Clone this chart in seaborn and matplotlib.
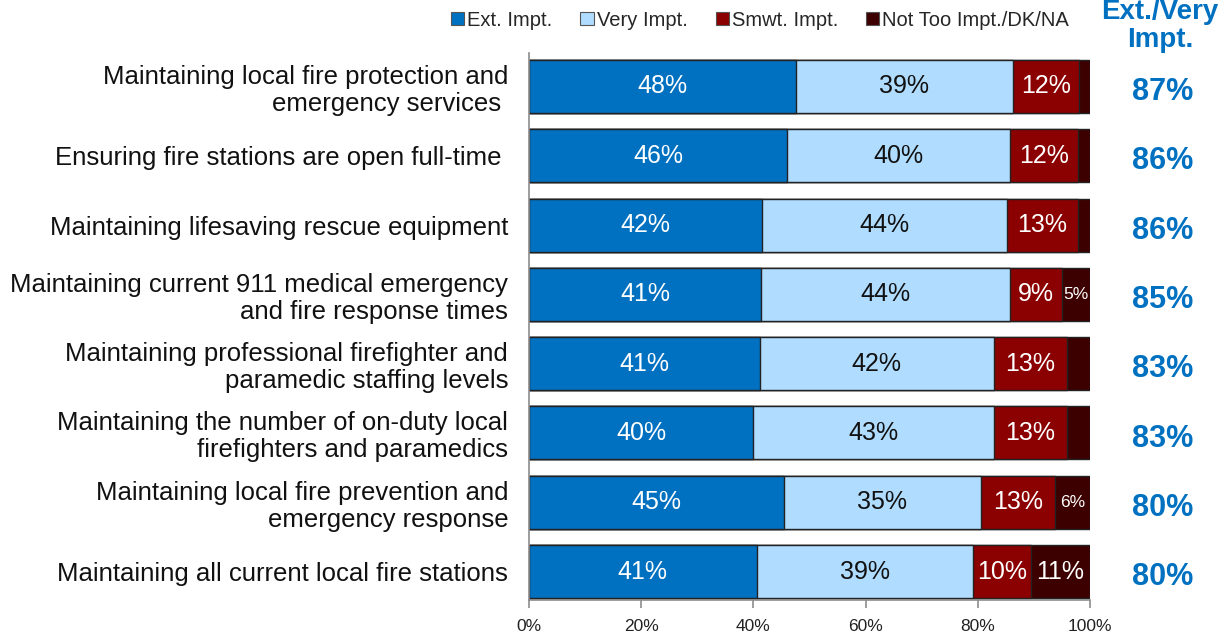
import matplotlib
matplotlib.use("Agg")
import matplotlib.pyplot as plt
from matplotlib.patches import Patch
import pandas as pd
import seaborn as sns

# Survey items (top to bottom)
items = [
    "Maintaining local fire protection and\nemergency services ",
    "Ensuring fire stations are open full-time ",
    "Maintaining lifesaving rescue equipment",
    "Maintaining current 911 medical emergency\nand fire response times",
    "Maintaining professional firefighter and\nparamedic staffing levels",
    "Maintaining the number of on-duty local\nfirefighters and paramedics",
    "Maintaining local fire prevention and\nemergency response",
    "Maintaining all current local fire stations",
]

series_names = ["Ext. Impt.", "Very Impt.", "Smwt. Impt.", "Not Too Impt./DK/NA"]

ext_impt = [47.6, 46.0, 41.6, 41.4, 41.1, 40.0, 45.4, 40.6]
very_impt = [38.6, 39.8, 43.6, 44.4, 41.8, 42.9, 35.2, 38.6]
smwt_impt = [11.9, 12.1, 12.7, 9.2, 13.0, 13.0, 13.2, 10.2]
not_too = [1.9, 2.1, 2.1, 5.0, 4.1, 4.1, 6.2, 10.6]

ext_very_total = [87, 86, 86, 85, 83, 83, 80, 80]

colors = ["#0070C0", "#AFDCFF", "#8B0000", "#3C0000"]
label_colors = ["white", "#111111", "white", "white"]

sns.set_style("white")
plt.rcParams["font.family"] = ["Liberation Sans", "DejaVu Sans"]

df = pd.DataFrame({"item": items, series_names[0]: ext_impt,
                   series_names[1]: very_impt, series_names[2]: smwt_impt,
                   series_names[3]: not_too})

fig = plt.figure(figsize=(12.29, 6.37), dpi=100)
ax = fig.add_axes([0.4304, 0.0581, 0.4565, 0.8587])

# Stacked bars: draw cumulative totals from the outermost segment inward
cum = df[series_names].cumsum(axis=1)
for i in range(len(series_names) - 1, -1, -1):
    sns.barplot(x=cum[series_names[i]], y=df["item"], orient="h", ax=ax,
                color=colors[i], width=0.765, edgecolor="#222222",
                linewidth=1.0, saturation=1)

# Segment value labels
for r in range(len(items)):
    left = 0.0
    for i, name in enumerate(series_names):
        v = df.loc[r, name]
        if v >= 5:
            if i == 3 and v < 8:
                fs = 12.5
            else:
                fs = 18
            ax.text(left + v / 2, r, f"{v:.0f}%", ha="center", va="center",
                    color=label_colors[i], fontsize=fs)
        left += v

# Combined Ext./Very column to the right of the bars
for r, tot in enumerate(ext_very_total):
    ax.text(113, r + 0.08, f"{tot}%", ha="center", va="center",
            color="#0070C0", fontsize=22, fontweight="bold", clip_on=False)
fig.text(1160 / 1229, 1 - 12 / 637, "Ext./Very", ha="center", va="center",
         color="#0070C0", fontsize=20, fontweight="bold")
fig.text(1160 / 1229, 1 - 40 / 637, "Impt.", ha="center", va="center",
         color="#0070C0", fontsize=20, fontweight="bold")

ax.set_xlim(0, 100)
ax.set_ylim(7.41, -0.483)
ax.set_xticks([0, 20, 40, 60, 80, 100])
ax.set_xticklabels([f"{t}%" for t in [0, 20, 40, 60, 80, 100]])
ax.set_xlabel("")
ax.set_ylabel("")

for s in ["top", "right"]:
    ax.spines[s].set_visible(False)
for s in ["left", "bottom"]:
    ax.spines[s].set_color("#8c8c8c")
    ax.spines[s].set_linewidth(1.2)

ax.tick_params(axis="x", which="both", bottom=True, length=6, width=1.2,
               color="#8c8c8c", labelsize=12.5, pad=8, labelcolor="#222222")
ax.tick_params(axis="y", length=0, pad=15, labelsize=18.5, labelcolor="#111111")
for lab in ax.get_yticklabels():
    lab.set_horizontalalignment("right")
    lab.set_multialignment("right")
    lab.set_linespacing(1.15)

handles = [Patch(facecolor=c, edgecolor="#555555", linewidth=0.8) for c in colors]
fig.legend(handles, series_names, loc="center", bbox_to_anchor=(760 / 1229, 1 - 20 / 637),
           ncol=4, frameon=False, fontsize=14.5, handlelength=0.65, handleheight=0.65,
           handletextpad=0.15, columnspacing=1.4, borderaxespad=0)

fig.savefig("out.png", dpi=100)
